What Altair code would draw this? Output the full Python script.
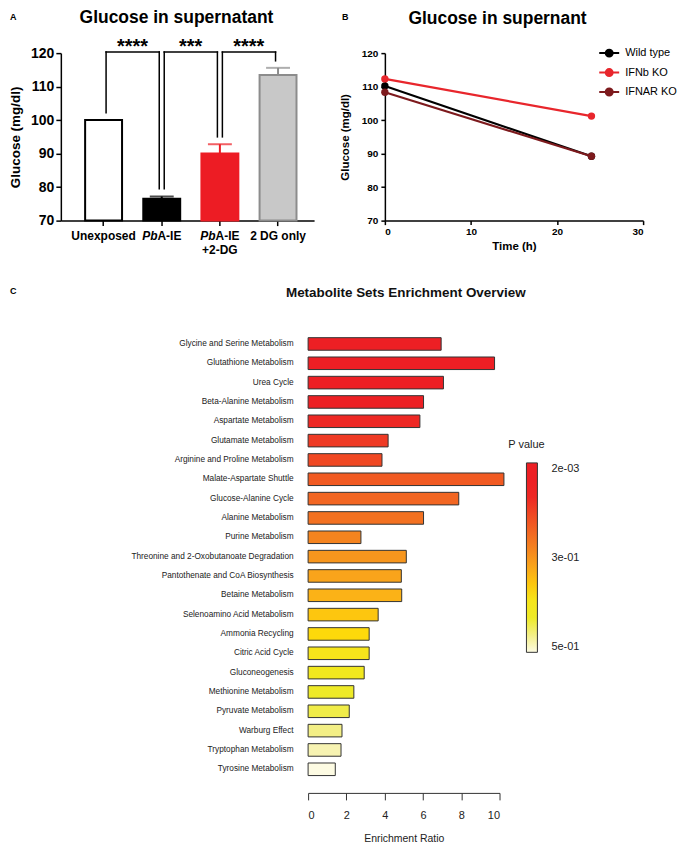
import altair as alt
import pandas as pd

FONT = "Liberation Sans"

# ---------------- Panel A data ----------------
a_groups = ["Unexposed", "PbA-IE", "PbA-IE+2-DG", "2 DG only"]
a_means = [100.0, 76.5, 90.0, 113.5]
a_err_top = [None, 77.2, 92.8, 115.6]
a_axis_min = 70
a_y_ticks = [70, 80, 90, 100, 110, 120]
a_fill = ["#ffffff", "#000000", "#ed1c24", "#c8c8c8"]
a_stroke = ["#000000", "#000000", "#ed1c24", "#8c8c8c"]

# tick-label pieces (italic species prefix "Pb" + upright rest)
a_lab_plain_groups = ["Unexposed", "2 DG only"]
a_lab_pb_groups = ["PbA-IE", "PbA-IE+2-DG"]
a_lab_pb_italic = ["Pb", "Pb"]
a_lab_pb_rest = ["A-IE", "A-IE"]
a_lab_line2_groups = ["PbA-IE+2-DG"]
a_lab_line2_text = ["+2-DG"]

br_left = ["Unexposed", "PbA-IE", "PbA-IE+2-DG"]
br_right = ["PbA-IE", "PbA-IE+2-DG", "2 DG only"]
br_left_y = [102.2, 79.5, 95.0]
br_right_y = [79.5, 95.0, 117.7]
br_top_y = [120.3, 120.3, 120.3]
br_text = ["****", "***", "****"]
br_text_y = [120.0, 120.0, 120.0]

# ---------------- Panel B data ----------------
b_series = ["Wild type", "IFNb KO", "IFNAR KO"]
b_colors = ["#000000", "#e8262c", "#7d1a1d"]
b_time = [0, 24]
b_wild = [110.2, 89.2]
b_ifnb = [112.3, 101.2]
b_ifnar = [108.3, 89.2]
b_x_ticks = [0, 10, 20, 30]
b_y_ticks = [70, 80, 90, 100, 110, 120]

# ---------------- Panel C data ----------------
c_sets = [
    "Glycine and Serine Metabolism", "Glutathione Metabolism", "Urea Cycle",
    "Beta-Alanine Metabolism", "Aspartate Metabolism", "Glutamate Metabolism",
    "Arginine and Proline Metabolism", "Malate-Aspartate Shuttle",
    "Glucose-Alanine Cycle", "Alanine Metabolism", "Purine Metabolism",
    "Threonine and 2-Oxobutanoate Degradation", "Pantothenate and CoA Biosynthesis",
    "Betaine Metabolism", "Selenoamino Acid Metabolism", "Ammonia Recycling",
    "Citric Acid Cycle", "Gluconeogenesis", "Methionine Metabolism",
    "Pyruvate Metabolism", "Warburg Effect", "Tryptophan Metabolism",
    "Tyrosine Metabolism",
]
c_ratio = [6.95, 9.74, 7.07, 6.03, 5.84, 4.18, 3.86, 10.23, 7.87, 6.03, 2.76,
           5.13, 4.87, 4.89, 3.66, 3.19, 3.19, 2.93, 2.39, 2.15, 1.77, 1.72, 1.42]
c_p_rank = [0, 1, 2, 3, 4, 5, 6, 7, 8, 9, 10, 11, 12, 13, 14, 15, 16, 17, 18,
            19, 20, 21, 22]
c_legend_ticks = [0, 11, 22]
c_legend_labels = ["2e-03", "3e-01", "5e-01"]
c_x_ticks = [0, 2, 4, 6, 8, 10]
heat = ["#ed1f24", "#ed1f24", "#ed1f24", "#ed2024", "#ee2824", "#ef3a24",
        "#f04823", "#f15a22", "#f26622", "#f37121", "#f5841f", "#f7961d",
        "#f9a41b", "#fbb217", "#fdc60f", "#fdd90b", "#f6e51b", "#f2e81e",
        "#eeea28", "#f0ec48", "#f3ef86", "#f7f3b2", "#fdfbe3"]

# =============== Panel A ===============
A_W, A_H = 254, 168
dfA = pd.DataFrame({"group": a_groups, "val": a_means, "base": [a_axis_min] * 4})
dfErr = pd.DataFrame({"group": a_groups, "val": a_means, "top": a_err_top}).dropna()
dfLegL = pd.DataFrame({"group": br_left, "val": br_left_y, "top": br_top_y})
dfLegR = pd.DataFrame({"group": br_right, "val": br_right_y, "top": br_top_y})
dfBr = pd.DataFrame({"group": br_left, "group2": br_right, "val": br_top_y,
                     "lab": br_text, "ly": br_text_y})

x_scale_A = alt.Scale(domain=a_groups, paddingInner=0.365, paddingOuter=0.36, align=0.58)
axA_x = alt.Axis(labels=False, tickSize=5, tickWidth=1.5, tickColor="black",
                 domainColor="black", domainWidth=1.5)
xA = alt.X("group:N", title=None, scale=x_scale_A, axis=axA_x)
y_scale_A = alt.Scale(domain=[70, 120], nice=False, zero=False)
axA_y = alt.Axis(values=a_y_ticks, labelFontSize=14, labelFontWeight="bold",
                 labelColor="black", labelPadding=2, tickSize=5, tickWidth=1.5,
                 tickColor="black", domainColor="black", domainWidth=1.5,
                 titleFontSize=13.5, titleFontWeight="bold", titleColor="black",
                 titlePadding=8, grid=False)


def yA(field):
    return alt.Y(f"{field}:Q", title="Glucose (mg/dl)", scale=y_scale_A, axis=axA_y)


strokeA = alt.Stroke("group:N", scale=alt.Scale(domain=a_groups, range=a_stroke), legend=None)
bars = alt.Chart(dfA).mark_bar(strokeWidth=2).encode(
    x=xA, y=yA("val"), y2=alt.Y2("base:Q"),
    fill=alt.Fill("group:N", scale=alt.Scale(domain=a_groups, range=a_fill), legend=None),
    stroke=strokeA,
)
err = alt.Chart(dfErr).mark_rule(strokeWidth=2).encode(
    x=xA, y=yA("val"), y2=alt.Y2("top:Q"), stroke=strokeA)
cap = alt.Chart(dfErr).mark_tick(thickness=2, size=24).encode(
    x=xA, y=yA("top"),
    color=alt.Color("group:N", scale=alt.Scale(domain=a_groups, range=a_stroke), legend=None))
legL = alt.Chart(dfLegL).mark_rule(strokeWidth=1.5, color="black", xOffset=2.5,
                                    strokeCap="square").encode(
    x=xA, y=yA("val"), y2=alt.Y2("top:Q"))
legR = alt.Chart(dfLegR).mark_rule(strokeWidth=1.5, color="black", xOffset=-2.5,
                                    strokeCap="square").encode(
    x=xA, y=yA("val"), y2=alt.Y2("top:Q"))
horiz = alt.Chart(dfBr).mark_rule(strokeWidth=1.5, color="black", xOffset=2.5,
                                   x2Offset=-2.5, strokeCap="square").encode(
    x=xA, x2=alt.X2("group2:N"), y=yA("val"))
stars = alt.Chart(dfBr).mark_text(fontSize=20, fontWeight="bold", dx=29,
                                   baseline="alphabetic", color="black").encode(
    x=xA, y=yA("ly"), text="lab:N")

# category labels drawn as text so "Pb" can be italic
LAB_Y = A_H + 10
lab_style = dict(fontSize=12, fontWeight="bold", baseline="top", color="black")
labPlain = alt.Chart(pd.DataFrame({"group": a_lab_plain_groups, "t": a_lab_plain_groups})
                     ).mark_text(align="center", **lab_style).encode(
    x=xA, y=alt.value(LAB_Y), text="t:N")
labPb = alt.Chart(pd.DataFrame({"group": a_lab_pb_groups, "t": a_lab_pb_italic})
                  ).mark_text(align="right", dx=-4.3, fontStyle="italic", **lab_style).encode(
    x=xA, y=alt.value(LAB_Y), text="t:N")
labRest = alt.Chart(pd.DataFrame({"group": a_lab_pb_groups, "t": a_lab_pb_rest})
                    ).mark_text(align="left", dx=-4.3, **lab_style).encode(
    x=xA, y=alt.value(LAB_Y), text="t:N")
labLine2 = alt.Chart(pd.DataFrame({"group": a_lab_line2_groups, "t": a_lab_line2_text})
                     ).mark_text(align="center", **lab_style).encode(
    x=xA, y=alt.value(LAB_Y + 14), text="t:N")

titleA = alt.Chart(pd.DataFrame({"t": ["Glucose in supernatant"]})).mark_text(
    fontSize=17.5, fontWeight="bold", align="center", baseline="middle", color="black"
).encode(x=alt.value(116), y=alt.value(-35), text="t:N")
letterA = alt.Chart(pd.DataFrame({"t": ["A"]})).mark_text(
    fontSize=9, fontWeight="bold", align="left", baseline="middle", color="black"
).encode(x=alt.value(-51), y=alt.value(-36), text="t:N")

chartA = alt.layer(bars, err, cap, legL, legR, horiz, stars,
                   labPlain, labPb, labRest, labLine2, titleA, letterA).properties(
    width=A_W, height=A_H)

# =============== Panel B ===============
rows = []
for s, vals in zip(b_series, [b_wild, b_ifnb, b_ifnar]):
    for t, v in zip(b_time, vals):
        rows.append({"series": s, "time": t, "glucose": v})
dfB = pd.DataFrame(rows)

sym = ("M-1,0L1,0"
       "M-0.35,0A0.35,0.35,0,1,0,0.35,0A0.35,0.35,0,1,0,-0.35,0"
       "M-0.25,0A0.25,0.25,0,1,0,0.25,0A0.25,0.25,0,1,0,-0.25,0"
       "M-0.15,0A0.15,0.15,0,1,0,0.15,0A0.15,0.15,0,1,0,-0.15,0"
       "M-0.05,0A0.05,0.05,0,1,0,0.05,0A0.05,0.05,0,1,0,-0.05,0")
legB = alt.Legend(title=None, orient="none", legendX=214, legendY=-11,
                  symbolType=sym, symbolSize=400, symbolStrokeWidth=2,
                  labelFontSize=11, labelColor="black", labelOffset=5,
                  rowPadding=0.5, padding=0)
scaleB = alt.Scale(domain=b_series, range=b_colors)
axB_x = alt.Axis(values=b_x_ticks, format="d", labelFontSize=10, labelFontWeight="bold",
                 labelColor="black", labelPadding=2, tickSize=4, tickWidth=1.5,
                 tickColor="black", domainColor="black", domainWidth=1.5,
                 titleFontSize=11.5, titleFontWeight="bold", titleColor="black",
                 titlePadding=4, grid=False)
axB_y = alt.Axis(values=b_y_ticks, labelFontSize=10, labelFontWeight="bold",
                 labelColor="black", labelPadding=3, tickSize=4, tickWidth=1.5,
                 tickColor="black", domainColor="black", domainWidth=1.5,
                 titleFontSize=11.5, titleFontWeight="bold", titleColor="black",
                 titlePadding=11, grid=False)
xB = alt.X("time:Q", title="Time (h)", scale=alt.Scale(domain=[0, 30], nice=False), axis=axB_x)
yB = alt.Y("glucose:Q", title="Glucose (mg/dl)",
           scale=alt.Scale(domain=[70, 120], nice=False, zero=False), axis=axB_y)

lineB = alt.Chart(dfB).mark_line(strokeWidth=2.2).encode(
    x=xB, y=yB, color=alt.Color("series:N", scale=scaleB, legend=legB))
pointB = alt.Chart(dfB).mark_point(filled=True, size=55, opacity=1).encode(
    x=xB, y=yB, color=alt.Color("series:N", scale=scaleB, legend=None))
titleB = alt.Chart(pd.DataFrame({"t": ["Glucose in supernant"]})).mark_text(
    fontSize=17.5, fontWeight="bold", align="center", baseline="middle", color="black"
).encode(x=alt.value(113), y=alt.value(-34), text="t:N")
letterB = alt.Chart(pd.DataFrame({"t": ["B"]})).mark_text(
    fontSize=9, fontWeight="bold", align="left", baseline="middle", color="black"
).encode(x=alt.value(-43), y=alt.value(-36), text="t:N")

chartB = alt.layer(lineB, pointB, titleB, letterB).properties(width=259, height=168)

# =============== Panel C ===============
dfC = pd.DataFrame({"set": c_sets, "ratio": c_ratio, "rank": c_p_rank})
neg_domain = sorted(-r for r in c_p_rank)
neg_range = list(reversed(heat))
lab_expr_c = ""
for tk, lb in zip(c_legend_ticks[:-1], c_legend_labels[:-1]):
    lab_expr_c += f"datum.value == {-tk} ? '{lb}' : "
lab_expr_c += f"'{c_legend_labels[-1]}'"

legC = alt.Legend(title="P value", orient="none", legendX=201, legendY=105,
                  type="gradient", direction="vertical",
                  gradientLength=190, gradientThickness=11,
                  gradientStrokeColor="#333333", gradientStrokeWidth=1,
                  values=[-t for t in c_legend_ticks], labelExpr=lab_expr_c,
                  labelFontSize=11, labelColor="#222222", labelOffset=14,
                  labelBaseline="middle",
                  titleFontSize=11, titleFontWeight="normal", titleColor="#222222",
                  titlePadding=13, titleAnchor="start", titleAlign="center", padding=0)

barsC = alt.Chart(dfC).transform_calculate(prank="-datum.rank").mark_bar(
    stroke="#333333", strokeWidth=1).encode(
    y=alt.Y("set:N", sort=c_sets, title=None,
            scale=alt.Scale(paddingInner=0.35, paddingOuter=0.175),
            axis=alt.Axis(domain=False, ticks=False, labelFontSize=8.3,
                          labelColor="#222222", labelPadding=15, labelLimit=300)),
    x=alt.X("ratio:Q", title="Enrichment Ratio",
            scale=alt.Scale(domain=[0, 10], nice=False),
            axis=alt.Axis(values=c_x_ticks, grid=False, domainColor="#333333",
                          tickColor="#333333", tickSize=7, labelFontSize=11,
                          labelColor="#222222", labelPadding=10, offset=14,
                          titleFontSize=10.5, titleFontWeight="normal",
                          titleColor="#222222", titlePadding=13)),
    color=alt.Color("prank:Q", title="P value",
                    scale=alt.Scale(domain=neg_domain, range=neg_range), legend=legC),
)
titleC = alt.Chart(pd.DataFrame({"t": ["Metabolite Sets Enrichment Overview"]})).mark_text(
    fontSize=13.5, fontWeight="bold", align="center", baseline="middle", color="#111111"
).encode(x=alt.value(98), y=alt.value(-41), text="t:N")
letterC = alt.Chart(pd.DataFrame({"t": ["C"]})).mark_text(
    fontSize=9, fontWeight="bold", align="left", baseline="middle", color="black"
).encode(x=alt.value(-299), y=alt.value(-43), text="t:N")

chartC = alt.layer(barsC, titleC, letterC).properties(width=192, height=446)

spacer = alt.Chart(pd.DataFrame({"s": [0]})).mark_point(opacity=0).encode(
    x=alt.value(0), y=alt.value(0)).properties(width=1, height=1)

indep_scales = dict(color="independent", fill="independent", stroke="independent")
top = alt.hconcat(chartA, chartB, spacing=71, bounds="flush").resolve_scale(
    **indep_scales).resolve_legend(**indep_scales)
bottom = alt.hconcat(spacer, chartC, spacing=247, bounds="flush").resolve_scale(
    **indep_scales).resolve_legend(**indep_scales)
chart = alt.vconcat(top, bottom, spacing=31).resolve_scale(
    **indep_scales).resolve_legend(**indep_scales).properties(
    padding=0
).configure(font=FONT).configure_view(stroke=None)

chart.save("out.html", embed_options={"renderer": "svg", "actions": False})
